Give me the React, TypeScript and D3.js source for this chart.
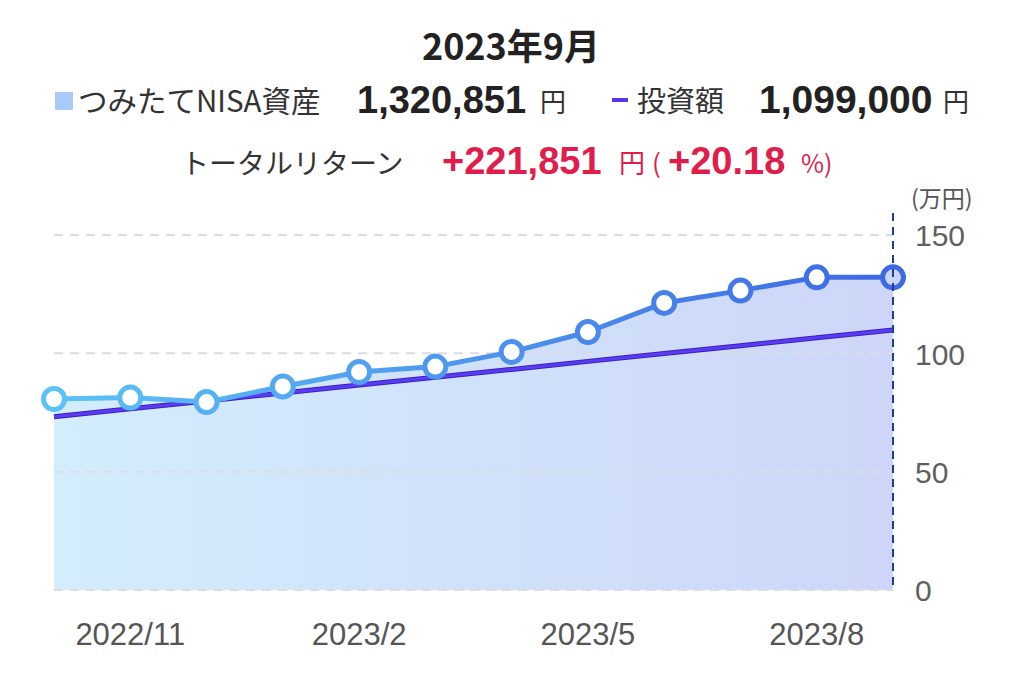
import React from "react";
import * as d3 from "d3";

const months = ["2022/10","2022/11","2022/12","2023/1","2023/2","2023/3","2023/4","2023/5","2023/6","2023/7","2023/8","2023/9"];
const assetValues = [80.7, 81.3, 79.4, 86.0, 92.1, 94.4, 100.6, 109.0, 121.3, 126.5, 132.1, 132.1];
const investValues = [73.2, 76.6, 79.9, 83.2, 86.6, 89.9, 93.2, 96.6, 99.9, 103.2, 106.6, 109.9];
const yTicks = [0, 50, 100, 150];
const xTickLabels = ["2022/11", "2023/2", "2023/5", "2023/8"];

const W = 1024, H = 686;
const JP = "'Noto Sans CJK JP', 'Liberation Sans', sans-serif";
const NUM = "'Liberation Sans', Arial, 'Noto Sans CJK JP', sans-serif";
const RED = "#e11d4b";

export default function App() {
  const x = d3.scalePoint<string>().domain(months).range([54, 893]);
  const y = d3.scaleLinear().domain([0, 150]).range([590, 235]);
  const colorAt = d3.interpolateRgb("#5cc2f7", "#3e68e4");
  const area = d3.area<number>().x((_, i) => x(months[i])!).y0(y(0)).y1((d) => y(d));
  const line = d3.line<number>().x((_, i) => x(months[i])!).y((d) => y(d));
  const last = months.length - 1;
  const xEnd = x(months[last])!;

  return (
    <svg width={W} height={H} style={{ position: "absolute", left: 0, top: 0, background: "#fff" }}>
      <defs>
        <linearGradient id="areaG" x1="54" x2="893" y1="0" y2="0" gradientUnits="userSpaceOnUse">
          <stop offset="0" stopColor="#d3edfc" />
          <stop offset="1" stopColor="#cdd6f8" />
        </linearGradient>
        <linearGradient id="lineG" x1="54" x2="893" y1="0" y2="0" gradientUnits="userSpaceOnUse">
          <stop offset="0" stopColor="#5cc2f7" />
          <stop offset="1" stopColor="#3e68e4" />
        </linearGradient>
      </defs>

      {/* Header */}
      <text x={511} y={60} textAnchor="middle" fontFamily={JP} fontWeight={700} fontSize={36} fill="#222">2023年9月</text>

      <rect x={55} y={92} width={18} height={18} fill="#a9c9f8" />
      <text x={78} y={112} fontFamily={JP} fontSize={29.5} fill="#333">つみたてNISA資産</text>
      <text x={357} y={113} fontFamily={NUM} fontWeight={700} fontSize={38} fill="#222">1,320,851</text>
      <text x={540} y={112} fontFamily={JP} fontSize={26} fill="#333">円</text>

      <rect x={612} y={98} width={16} height={4} fill="#5535ef" />
      <text x={637} y={112} fontFamily={JP} fontSize={29} fill="#333">投資額</text>
      <text x={759} y={113} fontFamily={NUM} fontWeight={700} fontSize={39} fill="#222">1,099,000</text>
      <text x={943} y={112} fontFamily={JP} fontSize={26} fill="#333">円</text>

      <text x={181} y={174} fontFamily={JP} fontSize={28} fill="#333">トータルリターン</text>
      <text x={442} y={174} fontFamily={NUM} fontWeight={700} fontSize={38} fill={RED}>+221,851</text>
      <text x={619} y={173} fontFamily={JP} fontSize={26} fill={RED}>円</text>
      <text x={652} y={173} fontFamily={JP} fontSize={26} fill={RED}>(</text>
      <text x={668} y={174} fontFamily={NUM} fontWeight={700} fontSize={38} fill={RED}>+20.18</text>
      <text x={801} y={173} fontFamily={JP} fontSize={25} fill={RED}>%)</text>

      {/* Area */}
      <path d={area(assetValues)!} fill="url(#areaG)" />

      {/* Grid */}
      {yTicks.map((t) => (
        <line key={t} x1={54} x2={xEnd} y1={y(t)} y2={y(t)} stroke="#dcdde3" strokeWidth={2} strokeDasharray="9 7" />
      ))}

      {/* Y axis labels */}
      <text x={911} y={207} fontFamily={JP} fontSize={23} fill="#555">(万円)</text>
      {yTicks.map((t) => (
        <text key={t} x={915} y={y(t)} dy="0.38em" fontFamily={NUM} fontSize={30} fill="#5f5f5f">{t}</text>
      ))}

      {/* X axis labels */}
      {xTickLabels.map((m) => (
        <text key={m} x={x(m)} y={645} textAnchor="middle" fontFamily={NUM} fontSize={31} fill="#555">{m}</text>
      ))}

      {/* Investment line */}
      <path d={line(investValues)!} fill="none" stroke="#3a1fc0" strokeWidth={5} />
      <path d={line(investValues)!} fill="none" stroke="#5a3cf2" strokeWidth={3} />

      {/* Asset line */}
      <path d={line(assetValues)!} fill="none" stroke="url(#lineG)" strokeWidth={5} strokeLinejoin="round" />

      {/* Points */}
      {assetValues.map((v, i) => (
        <circle key={i} cx={x(months[i])} cy={y(v)} r={10.5}
          fill={i === last ? "#c9d4f6" : "#fff"}
          stroke={colorAt(i / last)} strokeWidth={5} />
      ))}

      {/* Current marker line */}
      <line x1={xEnd} x2={xEnd} y1={213} y2={590} stroke="#1d3f93" strokeWidth={2} strokeDasharray="8 6" />
    </svg>
  );
}
